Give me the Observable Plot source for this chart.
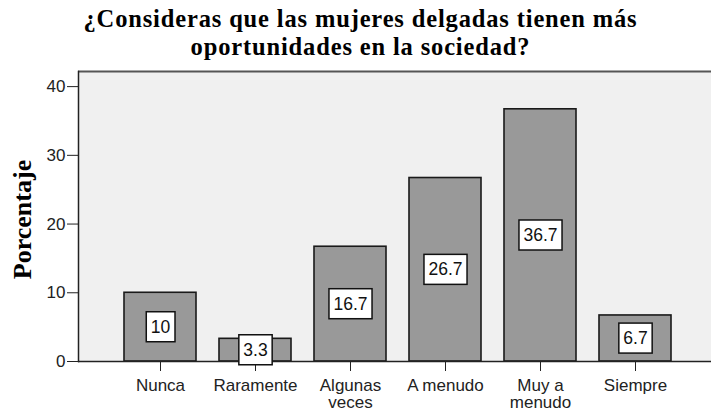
<!DOCTYPE html>
<html><head><meta charset="utf-8">
<script src="https://cdn.jsdelivr.net/npm/d3@7"></script>
<script src="https://cdn.jsdelivr.net/npm/@observablehq/plot@0.6"></script>
<style>
body{margin:0;background:#fff;overflow:hidden;width:711px;height:411px}
#title{height:64px;box-sizing:border-box;padding-top:5px;padding-left:10px;text-align:center;font-family:"Liberation Serif","Times New Roman",serif;font-weight:bold;font-size:24.5px;line-height:27.5px;letter-spacing:0.85px;color:#000}
#chart svg{display:block}
</style></head><body>
<div id="title">¿Consideras que las mujeres delgadas tienen más<br>oportunidades en la sociedad?</div>
<div id="chart"></div>
<script>
const categories = ["Nunca", "Raramente", "Algunas\nveces", "A menudo", "Muy a\nmenudo", "Siempre"];
const percentages = [10, 3.3, 16.7, 26.7, 36.7, 6.7];
const valueLabels = ["10", "3.3", "16.7", "26.7", "36.7", "6.7"];
const yTicks = [0, 10, 20, 30, 40];
const yLabel = "Porcentaje";
const yMax = 42.2;

const data = categories.map((c, i) => ({cat: c, value: percentages[i], label: valueLabels[i]}));

const chart = Plot.plot({
  width: 711, height: 347,
  marginTop: 7, marginBottom: 50, marginLeft: 78, marginRight: 0,
  style: {fontFamily: '"Liberation Sans", Arial, sans-serif', fontSize: "17px", background: "transparent", overflow: "visible"},
  x: {domain: categories, range: [78, 718], paddingInner: 0.24, paddingOuter: 0.458, label: null},
  y: {domain: [0, yMax], label: null},
  marks: [
    Plot.frame({fill: "#f0f0f0", stroke: null}),
    Plot.ruleY([yMax], {stroke: "#555", strokeWidth: 2}),
    Plot.barY(data, {x: "cat", y: "value", fill: "#999", stroke: "#1a1a1a", strokeWidth: 1.6}),
    Plot.ruleY([0], {stroke: "#222", strokeWidth: 1.5}),
    Plot.axisY({ticks: yTicks, tickSize: 11, tickPadding: 2, color: "#222", label: null}),
    Plot.frame({anchor: "left", stroke: "#222", strokeWidth: 1.5}),
    Plot.axisX({tickSize: 10, tickPadding: 7, lineHeight: 1.02, label: null, color: "#222"}),
    Plot.text(data, {x: "cat", y: d => d.value / 2, text: "label", className: "vlabel", fill: "#111", fontSize: 17.5}),
    Plot.text([yLabel], {frameAnchor: "left", textAnchor: "middle", text: d => d, rotate: -90, dx: -56, dy: 3, fill: "#000", fontFamily: '"Liberation Serif", serif', fontWeight: "bold", fontSize: 26})
  ]
});
document.getElementById("chart").appendChild(chart);

// white boxes behind the value labels
document.querySelectorAll(".vlabel text").forEach(t => {
  const b = t.getBBox();
  const r = document.createElementNS("http://www.w3.org/2000/svg", "rect");
  const w = b.width + 9, h = 30;
  const cy = b.y + b.height / 2;
  r.setAttribute("x", b.x + b.width / 2 - w / 2);
  r.setAttribute("y", cy - h / 2);
  r.setAttribute("width", w);
  r.setAttribute("height", h);
  r.setAttribute("fill", "#fff");
  r.setAttribute("stroke", "#111");
  r.setAttribute("stroke-width", 1.5);
  if (t.getAttribute("transform")) r.setAttribute("transform", t.getAttribute("transform"));
  t.parentNode.insertBefore(r, t);
});
</script>
</body></html>
